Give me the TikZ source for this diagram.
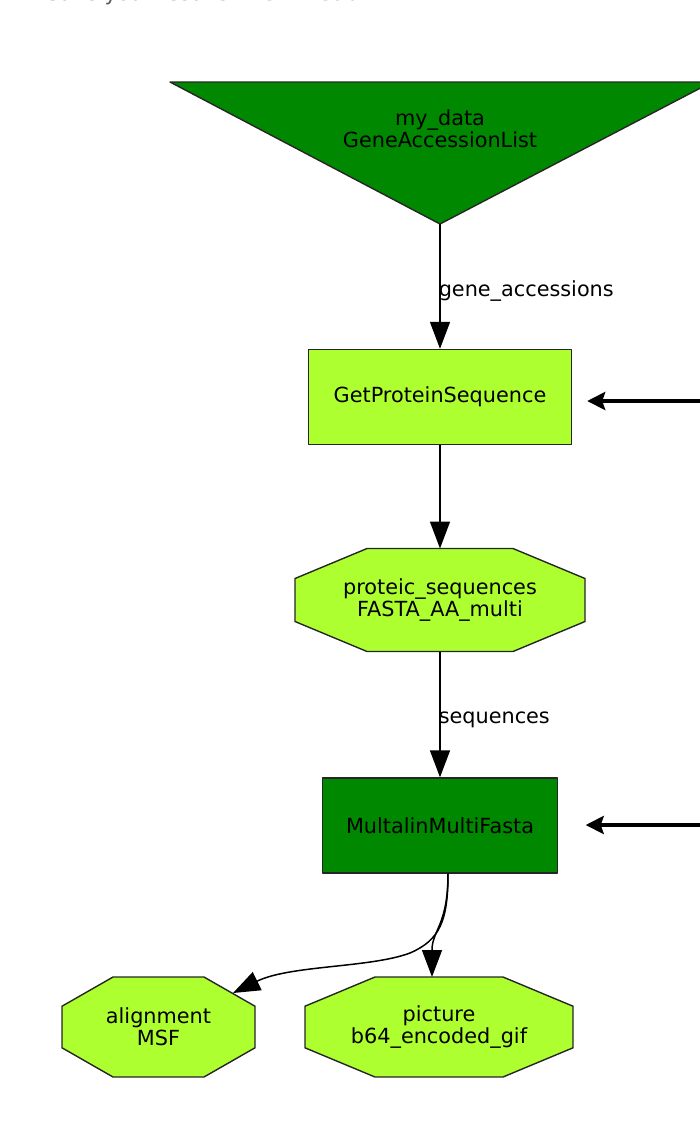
\documentclass[tikz,border=0pt]{standalone}
\usepackage{fontspec}
\setmainfont{DejaVu Sans}
\usetikzlibrary{arrows.meta,backgrounds}

\definecolor{dkgreen}{RGB}{0,136,0}
\definecolor{ltgreen}{RGB}{173,255,47}
\definecolor{linkblue}{RGB}{42,138,184}
\definecolor{notegray}{RGB}{90,90,90}

\tikzset{
  label text/.style={font=\fontsize{10.4}{11}\selectfont, align=center, inner sep=0pt},
  task/.style={label text, draw=black!85, line width=0.7pt, minimum height=47.5pt},
  datum/.style={label text, outer sep=0pt},
  octagon/.style={draw=black!85, line width=0.7pt, fill=ltgreen},
  flow/.style={-{Triangle[length=13.5pt,width=10pt]}, line width=0.75pt},
  pointer/.style={-{Stealth[length=9pt,width=9pt,inset=1.5pt]}, line width=2pt},
}

% octagon round a datum node: name, corner cut in x, corner cut in y
\newcommand{\octagonround}[3]{%
  \path[octagon] ([xshift=#2]#1.north west) -- ([xshift=-#2]#1.north east)
    -- ([yshift=-#3]#1.north east) -- ([yshift=#3]#1.south east)
    -- ([xshift=-#2]#1.south east) -- ([xshift=#2]#1.south west)
    -- ([yshift=#3]#1.south west) -- ([yshift=-#3]#1.north west) -- cycle;}

\begin{document}
\begin{tikzpicture}[line join=round, x=0.5pt, y=-0.5pt]
  \useasboundingbox (0,0) rectangle (700,1132);
  \clip (0,0) rectangle (700,1132);

  \node[anchor=base west, inner sep=0pt, text=notegray, font=\fontsize{10.5}{12}\selectfont]
    (savenote) at (46,0) {Save your results: \textcolor{linkblue}{\bfseries Download}};

  % Input
  \path[draw=black!85, line width=0.7pt, fill=dkgreen] (170,82) -- (712,82) -- (440,224) -- cycle;
  \coordinate (apex) at (440,224);
  \node[label text] (mydata) at (440,129) {my\_data\\GeneAccessionList};

  % Task 1
  \node[task, fill=ltgreen, minimum width=131.5pt] (getprot) at (440,397) {GetProteinSequence};
  \node[datum, minimum width=145pt, minimum height=51.5pt]
    (proteic) at (440,600) {proteic\_sequences\\FASTA\_AA\_multi};

  % Task 2
  \node[task, fill=dkgreen, minimum width=117.5pt] (multalin) at (440,825.5) {MultalinMultiFasta};
  \node[datum, minimum width=96.5pt, minimum height=50pt]
    (alignment) at (158.5,1027) {alignment\\MSF};
  \node[datum, minimum width=134pt, minimum height=50pt]
    (picture) at (439,1027) {picture\\b64\_encoded\_gif};

  \begin{scope}[on background layer]
    \octagonround{proteic}{36pt}{15pt}
    \octagonround{alignment}{25.5pt}{14.6pt}
    \octagonround{picture}{35pt}{14.6pt}
  \end{scope}

  % Edges
  \draw[flow] (apex) -- (getprot.north)
    node[label text, midway, anchor=west, xshift=-1pt, yshift=-2.5pt] {gene\_accessions};
  \draw[flow] (getprot) -- (proteic);
  \draw[flow] (proteic) -- (multalin)
    node[label text, midway, anchor=west, xshift=-1pt, yshift=-2.5pt] {sequences};
  \draw[flow] ([xshift=4pt]multalin.south) .. controls +(0,47) and +(30,-13) .. (410,953)
    .. controls +(-40,15) and +(57,-28) .. ([shift={(74.5,-34)}]alignment.center);
  \draw[flow] ([xshift=4pt]multalin.south) .. controls +(0,52) and +(0,-47) .. ([xshift=-3.5pt]picture.north);

  % Pointers
  \coordinate (in1) at (704,401);
  \coordinate (in2) at (704,825);
  \draw[pointer, shorten >=7.5pt] (in1) -- (in1 -| getprot.east);
  \draw[pointer, shorten >=13.75pt] (in2) -- (in2 -| multalin.east);
\end{tikzpicture}
\end{document}
